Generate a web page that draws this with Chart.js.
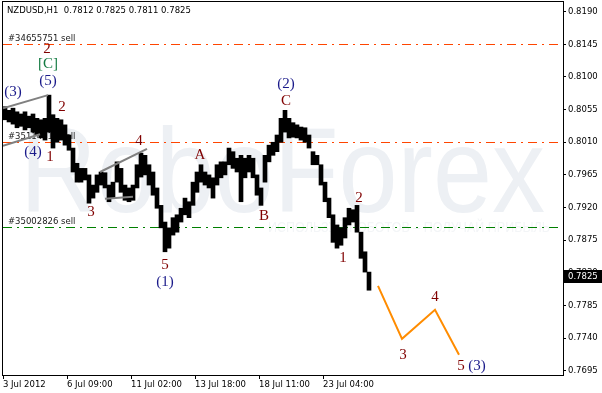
<!DOCTYPE html>
<html>
<head>
<meta charset="utf-8">
<script src="https://cdn.jsdelivr.net/npm/chart.js@4.4.1/dist/chart.umd.min.js"></script>
<style>
  html, body { margin: 0; padding: 0; background: #fff; }
  canvas { display: block; }
</style>
</head>
<body>
<canvas id="chart" width="602" height="393"></canvas>
<script>
// header: symbol and last bar open / high / low / close
const symbol = "NZDUSD,H1";
const lastBar = [0.7812, 0.7825, 0.7811, 0.7825];

// H1 price band, one entry per 4 bars (high / low of the group)
const barStep = 4;
const barHigh = [
    0.8059, 0.8054, 0.8057, 0.8052, 0.8049, 0.8052, 0.8046, 0.8049, 0.8043, 0.8041,
    0.8043, 0.8075, 0.8048, 0.8043, 0.8041, 0.8034, 0.8020, 0.8002, 0.7981, 0.7974,
    0.7974, 0.7965, 0.7951, 0.7965, 0.7969, 0.7968, 0.7951, 0.7955, 0.7983, 0.7974,
    0.7951, 0.7947, 0.7951, 0.7979, 0.7995, 0.7992, 0.7979, 0.7969, 0.7947, 0.7923,
    0.7900, 0.7892, 0.7906, 0.7910, 0.7919, 0.7933, 0.7928, 0.7955, 0.7969, 0.7979,
    0.7969, 0.7965, 0.7961, 0.7979, 0.7983, 0.7983, 0.8002, 0.7997, 0.7988, 0.7992,
    0.7988, 0.7992, 0.7988, 0.7965, 0.7947, 0.7992, 0.8006, 0.8010, 0.8020, 0.8043,
    0.8054, 0.8043, 0.8037, 0.8034, 0.8031, 0.8030, 0.8020, 0.7997, 0.7992, 0.7979,
    0.7955, 0.7933, 0.7910, 0.7896, 0.7892, 0.7906, 0.7919, 0.7917, 0.7923, 0.7886,
    0.7859, 0.7831,
];
const barLow = [
    0.8041, 0.8038, 0.8035, 0.8030, 0.8032, 0.8027, 0.8030, 0.8024, 0.8020, 0.8016,
    0.8013, 0.8024, 0.8002, 0.8010, 0.8013, 0.8006, 0.7999, 0.7969, 0.7955, 0.7955,
    0.7958, 0.7926, 0.7933, 0.7941, 0.7951, 0.7947, 0.7928, 0.7933, 0.7955, 0.7941,
    0.7930, 0.7928, 0.7930, 0.7947, 0.7962, 0.7965, 0.7951, 0.7937, 0.7919, 0.7892,
    0.7859, 0.7864, 0.7882, 0.7886, 0.7900, 0.7910, 0.7906, 0.7923, 0.7941, 0.7955,
    0.7951, 0.7947, 0.7933, 0.7951, 0.7961, 0.7965, 0.7979, 0.7974, 0.7969, 0.7928,
    0.7961, 0.7969, 0.7961, 0.7937, 0.7923, 0.7955, 0.7983, 0.7992, 0.7997, 0.8010,
    0.8024, 0.8016, 0.8017, 0.8016, 0.8013, 0.8010, 0.8002, 0.7979, 0.7979, 0.7951,
    0.7928, 0.7906, 0.7872, 0.7864, 0.7868, 0.7878, 0.7896, 0.7900, 0.7886, 0.7850,
    0.7831, 0.7806,
];

// time axis
const dateLabels = ["3 Jul 2012", "6 Jul 09:00", "11 Jul 02:00", "13 Jul 18:00", "18 Jul 11:00", "23 Jul 04:00"];
const dateLabelBars = [0, 64, 128, 192, 256, 320];
const barsShown = 560;

// price axis
const priceTicks = [0.8190, 0.8145, 0.8100, 0.8055, 0.8010, 0.7965, 0.7920, 0.7875, 0.7830, 0.7785, 0.7740, 0.7695];
const priceMin = 0.76891;
const priceMax = 0.82034;

// pending orders
const orderNames = ["#34655751 sell", "#35114417 sell", "#35002826 sell"];
const orderPrices = [0.8145, 0.8010, 0.78935];

// forecast path (bar, price)
const forecastBars = [375, 399, 432, 456];
const forecastPrices = [0.7812, 0.7739, 0.7779, 0.7717];

// channel lines: start bar, start price, end bar, end price
const channelStartBars = [0, 0, 97, 102];
const channelStartPrices = [0.8057, 0.8005, 0.7969, 0.7932];
const channelEndBars = [45, 37, 144, 130];
const channelEndPrices = [0.8075, 0.8021, 0.8001, 0.7935];

// wave marks
const waveText = ["2", "[C]", "(5)", "(3)", "2", "(4)", "1", "3", "4", "5", "(1)", "A", "B", "C", "(2)", "1", "2", "3", "4", "5", "(3)"];
const waveBars = [44, 45, 45, 10, 59, 30, 47, 88, 136, 162, 162, 197, 261, 283, 283, 340, 356, 400, 432, 458, 474];
const wavePrices = [0.8139, 0.8118, 0.8094, 0.8079, 0.8059, 0.7997, 0.7990, 0.7914, 0.8012, 0.7841, 0.7817,
    0.7992, 0.7908, 0.8067, 0.8090, 0.7850, 0.7933, 0.7717, 0.7797, 0.7701, 0.7701];
const waveDegree = ["minor", "primary", "inter", "inter", "minor", "inter", "minor", "minor", "minor", "minor", "inter",
    "minor", "minor", "minor", "inter", "minor", "minor", "minor", "minor", "minor", "inter"];

const degreeColors = { minor: "#800000", inter: "#1a1a8a", primary: "#127a40" };
const orderColors = ["#ff4500", "#ff4500", "#008000"];
const uiFont = "DejaVu Sans";

const bars = barHigh.map((h, i) => ({ x: i * barStep + 2, y: [barLow[i], h] }));
const forecast = forecastBars.map((b, i) => ({ x: b, y: forecastPrices[i] }));

const channelSets = channelStartBars.map((b, i) => ({
    type: "line",
    data: [
        { x: b, y: channelStartPrices[i] },
        { x: channelEndBars[i], y: channelEndPrices[i] },
    ],
    borderColor: "#808080",
    borderWidth: 2,
    pointRadius: 0,
    order: 0,
}));

const backdrop = {
    id: "backdrop",
    beforeDatasetsDraw(chart) {
        const ctx = chart.ctx;
        const area = chart.chartArea;
        const y = chart.scales.y;
        ctx.save();
        ctx.beginPath();
        ctx.rect(area.left, area.top, area.right - area.left, area.bottom - area.top);
        ctx.clip();

        // watermark
        ctx.fillStyle = "#edf0f4";
        ctx.font = "120px 'Liberation Sans'";
        ctx.textBaseline = "alphabetic";
        ctx.textAlign = "left";
        ctx.fillText("RoboForex", 20, 212, 525);
        ctx.fillStyle = "#f3f5f7";
        ctx.font = "15px 'Liberation Sans'";
        ctx.fillText("ИСПОЛЬЗУЙ РОБОТОВ – ПОЛУЧАЙ ПРИБЫЛЬ", 268, 232, 282);

        // order lines
        orderPrices.forEach((p, i) => {
            const py = Math.round(y.getPixelForValue(p)) + 0.5;
            ctx.strokeStyle = orderColors[i];
            ctx.lineWidth = 1;
            ctx.setLineDash([9, 5, 2, 5]);
            ctx.beginPath();
            ctx.moveTo(area.left, py);
            ctx.lineTo(area.right, py);
            ctx.stroke();
            ctx.setLineDash([]);
            ctx.fillStyle = "#1a1a1a";
            ctx.font = "8.5px '" + uiFont + "'";
            ctx.textBaseline = "bottom";
            ctx.fillText(orderNames[i], area.left + 5, py - 1);
        });
        ctx.restore();
    },
    afterDatasetsDraw(chart) {
        const ctx = chart.ctx;
        const x = chart.scales.x;
        const y = chart.scales.y;
        ctx.save();
        ctx.textAlign = "center";
        ctx.textBaseline = "middle";
        ctx.font = "15px 'Liberation Serif'";
        waveText.forEach((t, i) => {
            ctx.fillStyle = degreeColors[waveDegree[i]];
            ctx.fillText(t, x.getPixelForValue(waveBars[i]), y.getPixelForValue(wavePrices[i]));
        });
        ctx.restore();
    },
    afterDraw(chart) {
        const ctx = chart.ctx;
        const area = chart.chartArea;
        const y = chart.scales.y;
        ctx.save();
        // frame
        ctx.strokeStyle = "#000";
        ctx.lineWidth = 1;
        ctx.strokeRect(area.left - 0.5, area.top - 0.5, area.right - area.left + 1, area.bottom - area.top + 1);

        // symbol header
        ctx.fillStyle = "#000";
        ctx.font = "8.5px '" + uiFont + "'";
        ctx.textBaseline = "middle";
        ctx.textAlign = "left";
        ctx.fillText(symbol + "  " + lastBar.map((v) => v.toFixed(4)).join(" "), 7, 11);

        // current price tag
        const py = Math.round(y.getPixelForValue(lastBar[3]));
        ctx.fillStyle = "#000";
        ctx.fillRect(area.right + 1, py - 6, 602 - area.right - 1, 13);
        ctx.fillStyle = "#fff";
        ctx.fillText(lastBar[3].toFixed(4), area.right + 5, py + 0.5);
        ctx.restore();
    },
};

new Chart(document.getElementById("chart"), {
    type: "bar",
    data: {
        datasets: [
            {
                data: bars,
                backgroundColor: "#000",
                barThickness: 4,
                order: 2,
            },
            ...channelSets,
            {
                type: "line",
                data: forecast,
                borderColor: "#ff8c00",
                borderWidth: 2,
                pointRadius: 0,
                order: 1,
            },
        ],
    },
    options: {
        responsive: false,
        animation: false,
        devicePixelRatio: 1,
        layout: { padding: { left: 3, top: 2, right: 0, bottom: 0 } },
        plugins: { legend: { display: false }, tooltip: { enabled: false } },
        scales: {
            x: {
                type: "linear",
                offset: false,
                min: 0,
                max: barsShown,
                grid: { display: true, drawOnChartArea: false, tickLength: 4, color: "#000", offset: false },
                border: { display: true, color: "#000" },
                afterBuildTicks: (s) => { s.ticks = dateLabelBars.map((v) => ({ value: v })); },
                afterFit: (s) => { s.height = 18; s.paddingLeft = 0; s.paddingRight = 0; },
                ticks: {
                    autoSkip: false,
                    maxRotation: 0,
                    align: "start",
                    padding: 1,
                    color: "#000",
                    font: { family: uiFont, size: 8.5 },
                    callback: (v) => dateLabels[dateLabelBars.indexOf(v)],
                },
            },
            y: {
                type: "linear",
                position: "right",
                beginAtZero: false,
                min: priceMin,
                max: priceMax,
                grid: { display: true, drawOnChartArea: false, tickLength: 3, color: "#000" },
                border: { display: true, color: "#000" },
                afterBuildTicks: (s) => { s.ticks = priceTicks.map((v) => ({ value: v })); },
                afterFit: (s) => { s.width = 39; s.paddingTop = 0; s.paddingBottom = 0; },
                ticks: {
                    padding: 2,
                    color: "#000",
                    font: { family: uiFont, size: 8.5 },
                    callback: (v) => v.toFixed(4),
                },
            },
        },
    },
    plugins: [backdrop],
});
</script>
</body>
</html>
